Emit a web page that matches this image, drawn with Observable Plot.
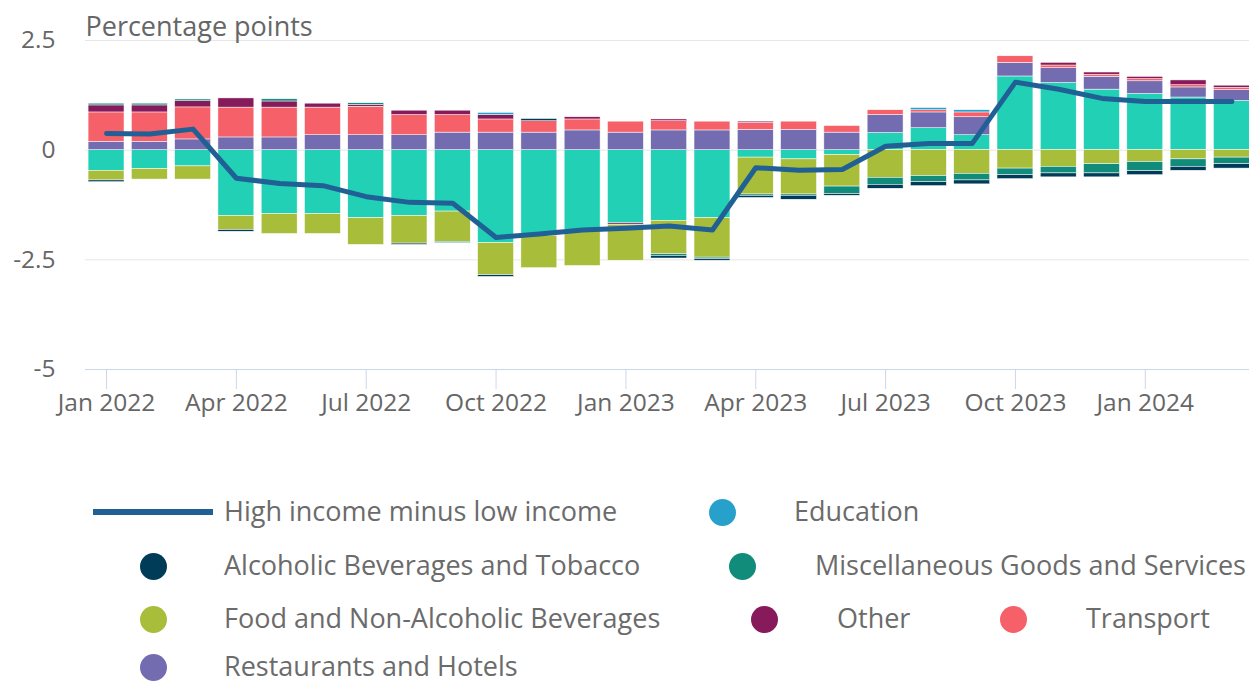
<!DOCTYPE html>
<html>
<head>
<meta charset="utf-8">
<script src="https://cdn.jsdelivr.net/npm/d3@7"></script>
<script src="https://cdn.jsdelivr.net/npm/@observablehq/plot@0.6"></script>
<style>
  body { margin: 0; background: #fff; font-family: "Open Sans", sans-serif; }
  #chart { width: 1249px; }
  #legend { position: relative; width: 1249px; height: 257px; overflow: hidden; }
  .txt { position: absolute; font-size: 27px; line-height: 26px; color: #6b6b6b; white-space: nowrap; }
  .dot { position: absolute; width: 27px; height: 27px; border-radius: 50%; }
  .ln { position: absolute; width: 120px; height: 6px; background: #206095; }
</style>
</head>
<body>
<div id="chart"></div>
<div id="legend"></div>
<script>
const months = ["2022-01","2022-02","2022-03","2022-04","2022-05","2022-06","2022-07","2022-08","2022-09","2022-10","2022-11","2022-12",
  "2023-01","2023-02","2023-03","2023-04","2023-05","2023-06","2023-07","2023-08","2023-09","2023-10","2023-11","2023-12",
  "2024-01","2024-02","2024-03"];
const monthNames = ["Jan","Feb","Mar","Apr","May","Jun","Jul","Aug","Sep","Oct","Nov","Dec"];

const housing = [-0.47,-0.43,-0.37,-1.50,-1.46,-1.46,-1.55,-1.50,-1.40,-2.12,-1.95,-1.83,-1.67,-1.61,-1.55,-0.17,-0.21,-0.11,0.39,0.50,0.34,1.68,1.53,1.38,1.28,1.20,1.12];
const restaurants = [0.19,0.19,0.245,0.29,0.29,0.34,0.34,0.34,0.40,0.40,0.40,0.45,0.40,0.45,0.45,0.46,0.46,0.40,0.41,0.36,0.41,0.31,0.34,0.29,0.29,0.23,0.25];
const transport = [0.67,0.67,0.73,0.68,0.68,0.63,0.65,0.46,0.40,0.30,0.26,0.25,0.25,0.21,0.20,0.16,0.19,0.15,0.11,0.05,0.11,0.15,0.06,0.05,0.05,0.05,0.05];
const other = [0.16,0.16,0.14,0.21,0.14,0.09,0.04,0.10,0.10,0.10,0,0.05,-0.04,0.04,0,0.03,0,0,0,0,0,0,0.06,0.05,0.05,0.11,0.05];
const food = [-0.22,-0.24,-0.30,-0.32,-0.45,-0.45,-0.61,-0.63,-0.69,-0.73,-0.74,-0.81,-0.81,-0.76,-0.90,-0.84,-0.80,-0.72,-0.63,-0.59,-0.54,-0.42,-0.38,-0.32,-0.27,-0.21,-0.17];
const education = [0,0,0,0,0,0,0,0,0,0.05,0,0,0,0,0,0,0,0,0,0.05,0.05,0,0,0,0,0,0];
const misc = [0.04,0.04,0.04,0,0.05,0,0.04,0,-0.03,0,0,0,0,-0.04,-0.03,-0.03,-0.03,-0.17,-0.16,-0.14,-0.15,-0.15,-0.15,-0.21,-0.21,-0.17,-0.15];
const alcohol = [-0.04,0,0,-0.04,0,0,0,-0.03,0,-0.04,0.05,0,0,-0.06,-0.04,-0.05,-0.09,-0.04,-0.09,-0.09,-0.09,-0.09,-0.09,-0.09,-0.09,-0.09,-0.10];
const highMinusLow = [0.38,0.37,0.48,-0.64,-0.76,-0.81,-1.06,-1.19,-1.21,-1.99,-1.91,-1.82,-1.78,-1.73,-1.82,-0.40,-0.46,-0.44,0.09,0.15,0.15,1.55,1.39,1.18,1.11,1.11,1.11];

const seriesNames = ["Housing and Household Services","Restaurants and Hotels","Transport","Other","Food and Non-Alcoholic Beverages","Education","Miscellaneous Goods and Services","Alcoholic Beverages and Tobacco"];
const seriesValues = [housing, restaurants, transport, other, food, education, misc, alcohol];
const seriesColors = ["#22d0b6","#746cb1","#f66068","#871a5b","#a8bd3a","#27a0cc","#118c7b","#003c57"];

const table = [];
seriesNames.forEach((name, s) => {
  months.forEach((m, i) => table.push({month: m, series: name, value: seriesValues[s][i]}));
});
const lineTable = months.map((m, i) => ({month: m, value: highMinusLow[i]}));

const fmtMonth = k => { const [y, m] = k.split("-"); return monthNames[+m - 1] + " " + y; };
const xTicks = months.filter((d, i) => i % 3 === 0);

const chart = Plot.plot({
  width: 1249,
  height: 430,
  marginLeft: 85,
  marginRight: 0,
  marginTop: 40,
  marginBottom: 61,
  style: {fontFamily: "Open Sans, sans-serif", fontSize: "24px", color: "#666", background: "white", overflow: "hidden"},
  x: {type: "band", domain: months, range: [84.4, 1253], paddingInner: 0.17, paddingOuter: 0.085, align: 0.5, round: false},
  y: {domain: [-5, 2.5]},
  color: {domain: seriesNames, range: seriesColors},
  marks: [
    Plot.ruleY([2.5, 0, -2.5], {stroke: "#e6e6e6", strokeWidth: 1}),
    Plot.barY(table, {x: "month", y: "value", fill: "series", stroke: "white", strokeWidth: 0.5}),
    Plot.ruleY([-5], {stroke: "#ccd6eb", strokeWidth: 1}),
    Plot.lineY(lineTable, {x: "month", y: "value", stroke: "#206095", strokeWidth: 5}),
    Plot.axisX({ticks: xTicks, tickFormat: fmtMonth, tickSize: 20, tickPadding: 4, stroke: "#ccd6eb", fill: "#666", fontSize: 24.5, label: null}),
    Plot.axisY({ticks: [2.5, 0, -2.5, -5], tickFormat: d => String(d), tickSize: 0, tickPadding: 30, fill: "#666", fontSize: 24.5, label: null}),
    Plot.text(["Percentage points"], {text: d => d, frameAnchor: "top-left", textAnchor: "start", lineAnchor: "bottom", dy: -5, fontSize: 27, fill: "#666"})
  ]
});
document.getElementById("chart").appendChild(chart);

// legend
const legendItems = [
  {type: "line", sx: 93, tx: 224, row: 0, label: "High income minus low income"},
  {type: "dot", color: "#27a0cc", sx: 709, tx: 794, row: 0, label: "Education"},
  {type: "dot", color: "#003c57", sx: 140, tx: 224, row: 1, label: "Alcoholic Beverages and Tobacco"},
  {type: "dot", color: "#118c7b", sx: 729, tx: 815, row: 1, label: "Miscellaneous Goods and Services"},
  {type: "dot", color: "#a8bd3a", sx: 140, tx: 224, row: 2, label: "Food and Non-Alcoholic Beverages"},
  {type: "dot", color: "#871a5b", sx: 751, tx: 837, row: 2, label: "Other"},
  {type: "dot", color: "#f66068", sx: 1000, tx: 1086, row: 2, label: "Transport"},
  {type: "dot", color: "#746cb1", sx: 140, tx: 224, row: 3, label: "Restaurants and Hotels"}
];
const rowCenters = [82, 136, 189, 237];
const legend = document.getElementById("legend");
legendItems.forEach(it => {
  const c = rowCenters[it.row];
  const sym = document.createElement("div");
  if (it.type === "line") {
    sym.className = "ln";
    sym.style.left = it.sx + "px";
    sym.style.top = (c - 3) + "px";
  } else {
    sym.className = "dot";
    sym.style.background = it.color;
    sym.style.left = it.sx + "px";
    sym.style.top = (c - 13.5) + "px";
  }
  legend.appendChild(sym);
  const t = document.createElement("div");
  t.className = "txt";
  t.textContent = it.label;
  t.style.left = it.tx + "px";
  t.style.top = (c - 14) + "px";
  legend.appendChild(t);
});
</script>
</body>
</html>
